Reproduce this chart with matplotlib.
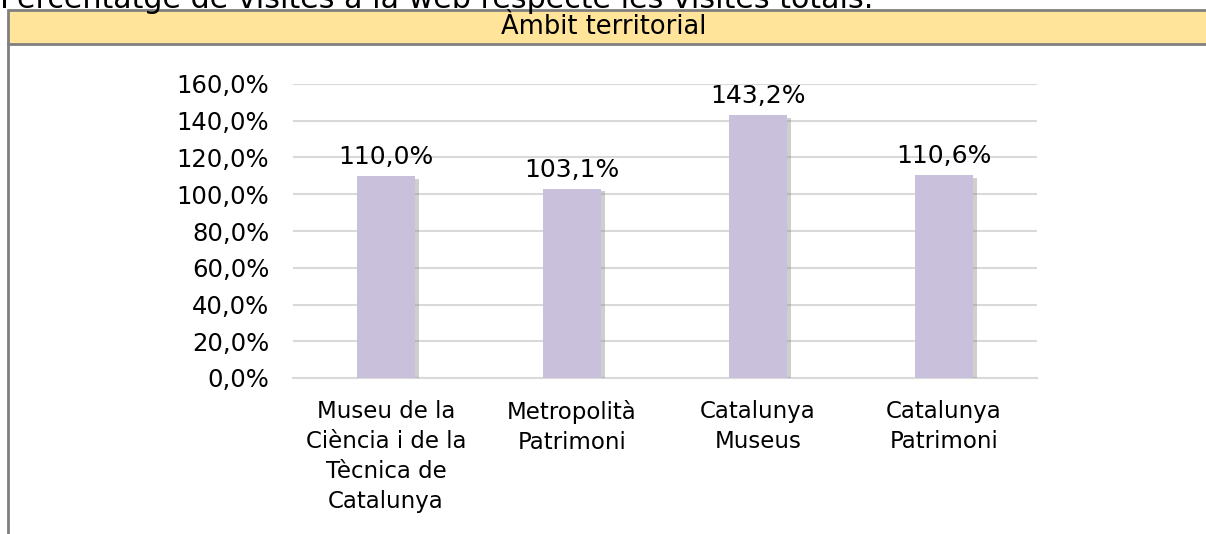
import matplotlib
matplotlib.use('Agg')
import matplotlib.pyplot as plt
import matplotlib.patheffects as pe
from matplotlib.patches import Rectangle
from matplotlib.lines import Line2D

# Dades del gràfic
categories = ['Museu de la\nCiència i de la\nTècnica de\nCatalunya',
              'Metropolità\nPatrimoni',
              'Catalunya\nMuseus',
              'Catalunya\nPatrimoni']
values = [110.0, 103.1, 143.2, 110.6]
y_ticks = [0, 20, 40, 60, 80, 100, 120, 140, 160]

title = 'Percentatge de visites a la web respecte les visites totals.'
header = 'Àmbit territorial'

W, H = 1206, 534
fig = plt.figure(figsize=(W / 100, H / 100), dpi=100)
fig.patch.set_facecolor('white')

def fx(px):
    return px / W

def fy(py):
    return 1 - py / H

# Capçalera groga amb vora grisa
fig.patches.append(Rectangle((fx(8), fy(44)), 1 - fx(8) + 0.01, fy(10) - fy(44),
                             transform=fig.transFigure, facecolor='#FFE499',
                             edgecolor='#808080', linewidth=2, zorder=1))
fig.lines.append(Line2D([fx(8), fx(8)], [fy(44), 0], transform=fig.transFigure,
                        color='#808080', linewidth=2))
fig.text(fx(604), fy(27), header, ha='center', va='center', fontsize=18.5,
         family='DejaVu Sans', color='black')
fig.text(fx(0), fy(8), title, ha='left', va='baseline', fontsize=21.7,
         family='DejaVu Sans', color='black')

# Eixos
ax = fig.add_axes([fx(293), fy(378), fx(1037) - fx(293), fy(84) - fy(378)])
ax.set_xlim(-0.5, len(categories) - 0.5)
ax.set_ylim(0, 160)

x = range(len(categories))
bars = ax.bar(x, values, width=0.31, color='#C9C0DB', zorder=3)
for b in bars:
    b.set_path_effects([pe.SimplePatchShadow(offset=(3, -2), shadow_rgbFace='#888888', alpha=0.4),
                        pe.Normal()])

for xi, v in zip(x, values):
    ax.text(xi, v + 10, f'{v:.1f}%'.replace('.', ','), ha='center', va='center',
            fontsize=18, color='black')

ax.set_yticks(y_ticks)
ax.set_yticklabels([f'{t:.1f}%'.replace('.', ',') for t in y_ticks], fontsize=17.5)
ax.set_xticks(list(x))
ax.set_xticklabels(categories, fontsize=16.5, linespacing=1.38, va='top')
ax.tick_params(axis='y', length=0, pad=17)
ax.tick_params(axis='x', length=0, pad=16)

ax.grid(axis='y', color='#D9D9D9', linewidth=1.5, zorder=0)
for s in ['top', 'right', 'left']:
    ax.spines[s].set_visible(False)
ax.spines['bottom'].set_color('#D9D9D9')
ax.spines['bottom'].set_linewidth(1.5)

plt.savefig('out.png', dpi=100)
